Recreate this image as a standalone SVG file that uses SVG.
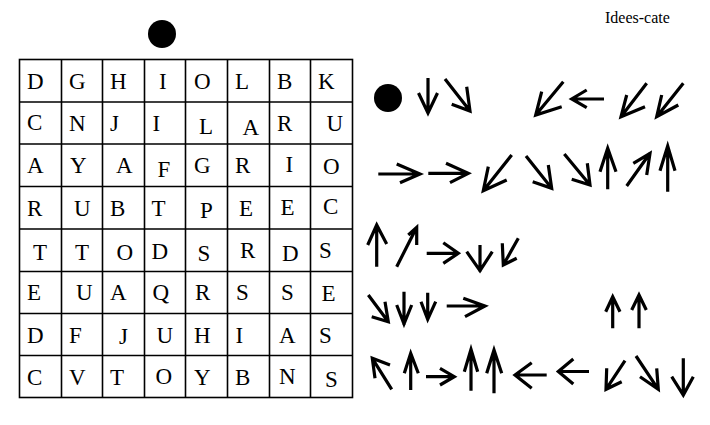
<svg xmlns="http://www.w3.org/2000/svg" width="710" height="425" viewBox="0 0 710 425">
<style>
.g{fill:none;stroke:#000;stroke-width:1.6}
.t{font-family:"Liberation Serif","Times New Roman",serif;font-size:23px;fill:#000}
.a{fill:none;stroke:#000;stroke-width:3.2;stroke-linecap:butt;stroke-linejoin:miter}
.ttl{font-family:"Liberation Serif","Times New Roman",serif;font-size:16px;fill:#000}
</style>
<rect width="710" height="425" fill="#fff"/>
<text id="title" class="ttl" x="605" y="23">Idees-cate</text>
<circle id="dot-top" cx="162" cy="34" r="14" fill="#000"/>
<circle id="dot-right" cx="388" cy="98" r="14" fill="#000"/>
<g id="grid" class="g">
<rect x="19.5" y="59.5" width="333" height="338"/>
<path d="M61.5,59.5V397.5M102.5,59.5V397.5M144.5,59.5V397.5M185.5,59.5V397.5M227.5,59.5V397.5M269.5,59.5V397.5M310.5,59.5V397.5"/>
<path d="M19.5,102H352.5M19.5,144H352.5M19.5,186.5H352.5M19.5,229H352.5M19.5,271.5H352.5M19.5,313.5H352.5M19.5,355.5H352.5"/>
</g>
<g id="letters" class="t">
<text x="27" y="89">D</text><text x="69" y="89">G</text><text x="110" y="89">H</text><text x="159" y="89">I</text><text x="194" y="89">O</text><text x="235" y="89">L</text><text x="277" y="89">B</text><text x="318" y="89">K</text>
<text x="27" y="130">C</text><text x="69" y="131">N</text><text x="110" y="131">J</text><text x="152.5" y="131">I</text><text x="199" y="133.5">L</text><text x="242.5" y="134.5">A</text><text x="277" y="131">R</text><text x="326.5" y="131">U</text>
<text x="27" y="173">A</text><text x="70" y="173">Y</text><text x="116" y="173">A</text><text x="157.5" y="177">F</text><text x="194" y="173">G</text><text x="235" y="173">R</text><text x="285.5" y="172">I</text><text x="323" y="174">O</text>
<text x="27" y="216">R</text><text x="74" y="216">U</text><text x="110" y="216">B</text><text x="151.5" y="216">T</text><text x="200" y="217.5">P</text><text x="239" y="216">E</text><text x="280.5" y="214.5">E</text><text x="323" y="213.5">C</text>
<text x="33" y="260">T</text><text x="75" y="260">T</text><text x="116.5" y="259.5">O</text><text x="151.5" y="258.5">D</text><text x="197.5" y="261">S</text><text x="240" y="258">R</text><text x="282" y="261">D</text><text x="319" y="258">S</text>
<text x="27" y="300">E</text><text x="76" y="300">U</text><text x="110" y="300">A</text><text x="152.5" y="300">Q</text><text x="195" y="300">R</text><text x="236" y="300">S</text><text x="281" y="300">S</text><text x="321.5" y="301">E</text>
<text x="27" y="342.5">D</text><text x="69" y="342.5">F</text><text x="119" y="343.5">J</text><text x="156.5" y="342.5">U</text><text x="194" y="342.5">H</text><text x="235.5" y="342.5">I</text><text x="279" y="343">A</text><text x="319" y="342.5">S</text>
<text x="27" y="385">C</text><text x="69" y="385">V</text><text x="110" y="385">T</text><text x="155.5" y="384">O</text><text x="194" y="385">Y</text><text x="235" y="385">B</text><text x="279" y="383.5">N</text><text x="325" y="387">S</text>
</g>
<g id="connectors" class="a">
<g id="arrows-row1">
<path d="M428,78L428,113M418.5,93L428,113L437.5,93"/>
<path d="M445,79L470,111M466.7,86.7L470,111L451.7,104.3"/>
<path d="M563.3,81.7L535.7,115M541.7,91.7L535.7,115L561.7,106.7"/>
<path d="M604,99L571.7,99M586.7,90L571.7,99L586.7,107.7"/>
<path d="M646.7,83.3L621,116.7M626.7,95L621,116.7L645,106.7"/>
<path d="M683.3,83.3L656.7,116.7M661.7,95L656.7,116.7L678.3,105"/>
</g>
<g id="arrows-row2">
<path d="M378.3,174L420,174M396.7,164L420,174L400,182.7"/>
<path d="M428.3,173.3L468.3,173.3M446,163.3L468.3,173.3L450,182.7"/>
<path d="M511.7,155L483.3,190.7M488.3,166.7L483.3,190.7L506.7,180"/>
<path d="M526,156L551.7,188.3M548.3,165L551.7,188.3L532.7,181.7"/>
<path d="M564.3,154L590,185M587.3,163.3L590,185L571.7,179.3"/>
<path d="M607.7,189.3L607.7,148.3M600,171.7L607.7,148.3L616,171.7"/>
<path d="M626.7,186L650,153.3M633.3,163.3L650,153.3L646.7,175"/>
<path d="M667.7,191.7L667.7,146M660,170.7L667.7,146L675,170.7"/>
</g>
<g id="arrows-row3">
<path d="M376.7,266.7L376.7,225M367.7,245L376.7,225L386.7,244"/>
<path d="M396.7,266.7L416.7,227.3M408.3,235L416.7,227.3L416.7,245"/>
<path d="M426.7,253.3L458.3,253.3M443.3,242.7L458.3,253.3L443.3,263.3"/>
<path d="M480,245L480,271.7M466.7,251.7L480,270.7L492.3,251.7"/>
<path d="M518.3,238.3L503.3,265M502.3,243.3L503.3,265L516.7,258.3"/>
</g>
<g id="arrows-row4">
<path d="M368.3,295L388.3,321.7M385,301.7L388.3,321.7L371.7,316.7"/>
<path d="M404,291.7L404,325M396.7,305L404,324L411.7,305"/>
<path d="M427.7,292.7L427.7,319.3M421,301.7L427.7,319.3L435.7,301.7"/>
<path d="M446.7,306L485,306M463.3,298.3L485,306L465,316.7"/>
<path d="M612.7,328.3L612.7,296.7M605.7,311.7L612.7,296.7L620,311.7"/>
<path d="M639,328.3L639,295M631.7,310L639,295L646.3,310"/>
</g>
<g id="arrows-row5">
<path d="M391.7,389.3L372.3,358.3M375,378.3L372.3,358.3L390,365"/>
<path d="M410.7,390L410.7,353.3M404.3,373.3L410.7,353.3L418.3,373.3"/>
<path d="M426,376.7L454.3,376.7M440,368.3L454.3,376.7L440,385"/>
<path d="M471,390.7L471,349.3M464.3,371.7L471,349.3L477.7,371.7"/>
<path d="M494,393.3L494,350M486.7,373.3L494,350L501.7,373.3"/>
<path d="M546.7,375L515,375M531.7,362.7L515,375L531.7,388.3"/>
<path d="M589,371.5L558.3,371.5M573.3,359L558.3,371.5L573.3,384"/>
<path d="M625,360.7L606,389.3M606.7,368.3L606,389.3L621.7,381.7"/>
<path d="M636,356L658.3,389.3M656.7,368.3L658.3,389.3L640,376.7"/>
<path d="M683.3,358.3L683.3,395M671.7,376.7L683.3,395L693.3,376.7"/>
</g>
</g>
</svg>
